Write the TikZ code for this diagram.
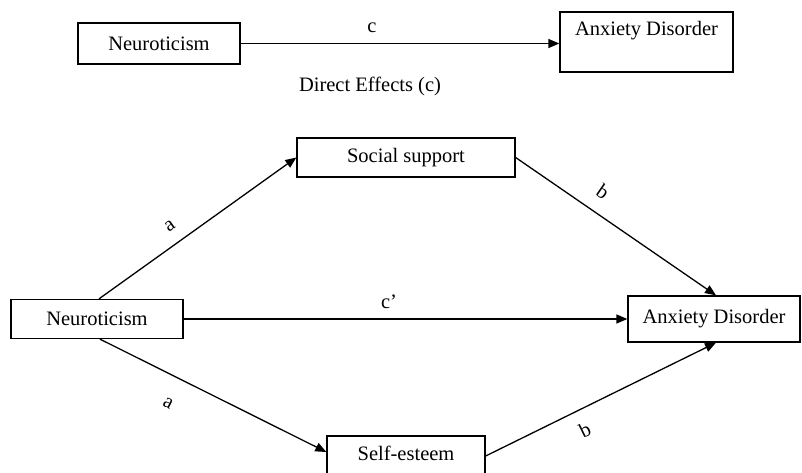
\documentclass[tikz,border=0pt]{standalone}
\usepackage{fontspec}
\setmainfont{Liberation Serif}
\usetikzlibrary{arrows.meta}
\begin{document}
\begin{tikzpicture}[x=1pt,y=-1pt,
  every node/.style={font=\fontsize{20.5}{24}\selectfont, inner sep=0pt},
  box/.style={draw=black, line width=1.3pt, rectangle},
  conn/.style={draw=black, line width=1.3pt, -{Triangle[length=11pt,width=9pt]}},
  lbl/.style={font=\fontsize{20.5}{24}\selectfont}]
\useasboundingbox (0,0) rectangle (802,472);
\clip (0,0) rectangle (802,472);
% top part
\node[box, minimum width=162pt, minimum height=41pt] (nT) at (159,43.5) {Neuroticism};
\node[box, minimum width=173pt, minimum height=60pt] (aT) at (646.5,42) {};
\node (aTt) at (646.5,31) {Anxiety Disorder};
\draw[conn] (nT.east) -- (nT.east -| aT.west);
\node[lbl] (cT) at (372,28) {c};
\node (dE) at (370,86) {Direct Effects (c)};
% bottom part
\node[box, minimum width=218pt, minimum height=39pt] (sS) at (406,157.5) {Social support};
\node[box, minimum width=172pt, minimum height=39pt] (nB) at (97,319) {Neuroticism};
\node[box, minimum width=172pt, minimum height=46pt] (aB) at (714,319) {Anxiety Disorder};
\node[box, minimum width=158pt, minimum height=39pt] (sE) at (406,455.5) {};
\node (sEt) at (406,453) {Self-esteem};
\draw[conn] ([xshift=2pt]nB.north) -- (sS.west);
\draw[conn] (sS.east) -- ([xshift=2pt]aB.north);
\draw[conn] (nB.east) -- (aB.west);
\draw[conn] ([xshift=3pt]nB.south) -- ([yshift=3.5pt]sE.west);
\draw[conn] ([yshift=-0.5pt]sE.east) -- ([xshift=2pt]aB.south);
\node[lbl, rotate=35] (la1) at (170,226) {a};
\node[lbl, rotate=-34.5] (lb1) at (603,192) {b};
\node[lbl] (lc) at (389,302) {c’};
\node[lbl, rotate=-27] (la2) at (168,403) {a};
\node[lbl, rotate=26] (lb2) at (585,430) {b};
\end{tikzpicture}
\end{document}
